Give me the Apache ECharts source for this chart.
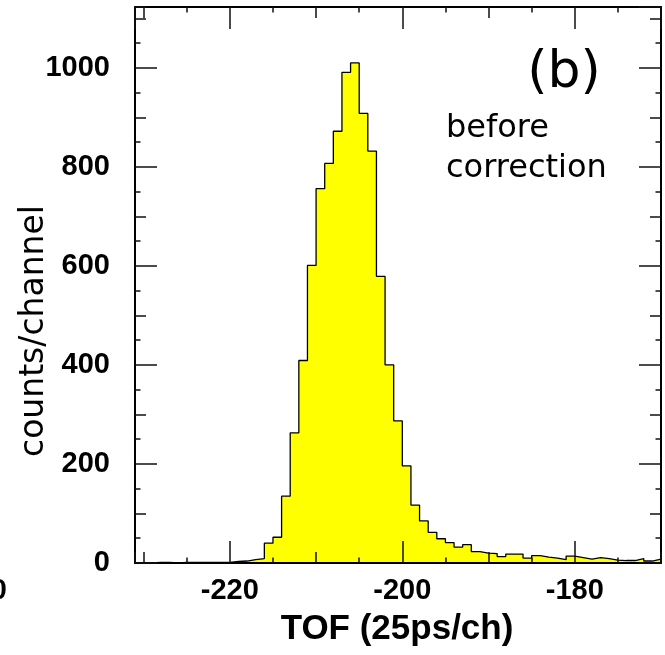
<!DOCTYPE html>
<html><head><meta charset="utf-8">
<script src="https://cdn.jsdelivr.net/npm/echarts@6/dist/echarts.min.js"></script>
<style>html,body{margin:0;padding:0;background:#fff}#c{width:665px;height:655px}</style>
</head><body><div id="c"></div>
<script>
// Histogram: left edges of 1-channel bins (TOF, 25 ps/ch) and counts per channel
const binLeftEdges = [-231,-230,-229,-228,-227,-226,-225,-224,-223,-222,-221,
  -220,-219,-218,-217,-216,-215,-214,-213,-212,-211,
  -210,-209,-208,-207,-206,-205,-204,-203,-202,-201,
  -200,-199,-198,-197,-196,-195,-194,-193,-192,-191,
  -190,-189,-188,-187,-186,-185,-184,-183,-182,-181,
  -180,-179,-178,-177,-176,-175,-174,-173,-172,-171];
const lastEdge = -170;
const counts = [0,0,1,1,0,1,1,1,1,1,1,
  3,4,7,9,40,52,135,263,409,601,
  756,807,872,991,1010,908,832,579,400,287,
  196,117,85,62,49,41,32,37,23,20,
  19,13,18,18,10,15,12,10,7,14,
  11,8,11,9,6,5,5,9,4,8];

const xRange = [-231, -170];
const yRange = [0, 1123];
const xTickSteps = [20, 10, 5];     // major, secondary, tertiary
const yTickSteps = [200, 100, 50];
const tickLengths = [22, 11, 5.5];

const xTitle = 'TOF (25ps/ch)';
const yTitle = 'counts/channel';
const panelLabel = '(b)';
const noteLines = ['before', 'correction'];

const chart = echarts.init(document.getElementById('c'), null, {renderer: 'canvas'});

const labelFont = {fontFamily: '"Liberation Sans", Arial, sans-serif', fontWeight: 'bold', fontSize: 29, color: '#000'};

function xAxisDef(pos, level) {
  const step = xTickSteps[level];
  const main = level === 0;
  return {
    type: 'value', position: pos, min: xRange[0], max: xRange[1], z: 10,
    splitNumber: Math.round((xRange[1] - xRange[0]) / step),
    minInterval: step, maxInterval: step,
    axisLine: {show: main, onZero: false, lineStyle: {color: '#000', width: 2}},
    axisTick: {show: true, inside: true, length: tickLengths[level], lineStyle: {color: '#111', width: 1.5}},
    axisLabel: Object.assign({show: main && pos === 'bottom', margin: 13, showMinLabel: false, showMaxLabel: false,
      formatter: v => String(v)}, labelFont),
    splitLine: {show: false}
  };
}
function yAxisDef(pos, level) {
  const step = yTickSteps[level];
  const main = level === 0;
  return {
    type: 'value', position: pos, min: yRange[0], max: yRange[1], interval: step, z: 10,
    axisLine: {show: main, onZero: false, lineStyle: {color: '#000', width: 2}},
    axisTick: {show: true, inside: true, length: tickLengths[level], lineStyle: {color: '#111', width: 1.5}},
    axisLabel: Object.assign({show: main && pos === 'left', margin: 25, showMaxLabel: false,
      padding: [5, 0, 0, 0], formatter: v => String(v)}, labelFont),
    splitLine: {show: false}
  };
}

const xAxes = [], yAxes = [];
['bottom', 'top'].forEach(p => [0, 1, 2].forEach(l => xAxes.push(xAxisDef(p, l))));
['left', 'right'].forEach(p => [0, 1, 2].forEach(l => yAxes.push(yAxisDef(p, l))));

const histData = binLeftEdges.map((e, i) => [e, counts[i]]);
histData.push([lastEdge, counts[counts.length - 1]]);

const roundFont = '"DejaVu Sans", "Noto Sans", sans-serif';

chart.setOption({
  animation: false,
  backgroundColor: '#fff',
  grid: {left: 135, right: 4, top: 7, bottom: 92, containLabel: false},
  xAxis: xAxes,
  yAxis: yAxes,
  series: [{
    type: 'line', xAxisIndex: 0, yAxisIndex: 0,
    step: 'end', symbol: 'none', data: histData,
    lineStyle: {color: '#000', width: 1.3},
    areaStyle: {color: '#ffff00', opacity: 1},
    z: 2
  }],
  graphic: [
    {type: 'text', x: 564, y: 73, style: {text: panelLabel, font: '52px ' + roundFont, fill: '#000', textAlign: 'center', textVerticalAlign: 'middle'}},
    {type: 'text', x: 446, y: 129, style: {text: noteLines[0], font: '32px ' + roundFont, fill: '#000', textAlign: 'left', textVerticalAlign: 'middle'}},
    {type: 'text', x: 446, y: 169, style: {text: noteLines[1], font: '32px ' + roundFont, fill: '#000', textAlign: 'left', textVerticalAlign: 'middle'}},
    {type: 'text', x: 34, y: 331, rotation: Math.PI / 2, style: {text: yTitle, font: '33px ' + roundFont, fill: '#000', textAlign: 'center', textVerticalAlign: 'middle'}},
    {type: 'text', x: 397, y: 629, style: {text: xTitle, font: 'bold 35px "Liberation Sans", Arial, sans-serif', fill: '#000', textAlign: 'center', textVerticalAlign: 'middle'}},
    {type: 'text', x: 7, y: 591, style: {text: '0', font: 'bold 29px "Liberation Sans", Arial, sans-serif', fill: '#000', textAlign: 'right', textVerticalAlign: 'middle'}}
  ]
});
</script>
</body></html>
